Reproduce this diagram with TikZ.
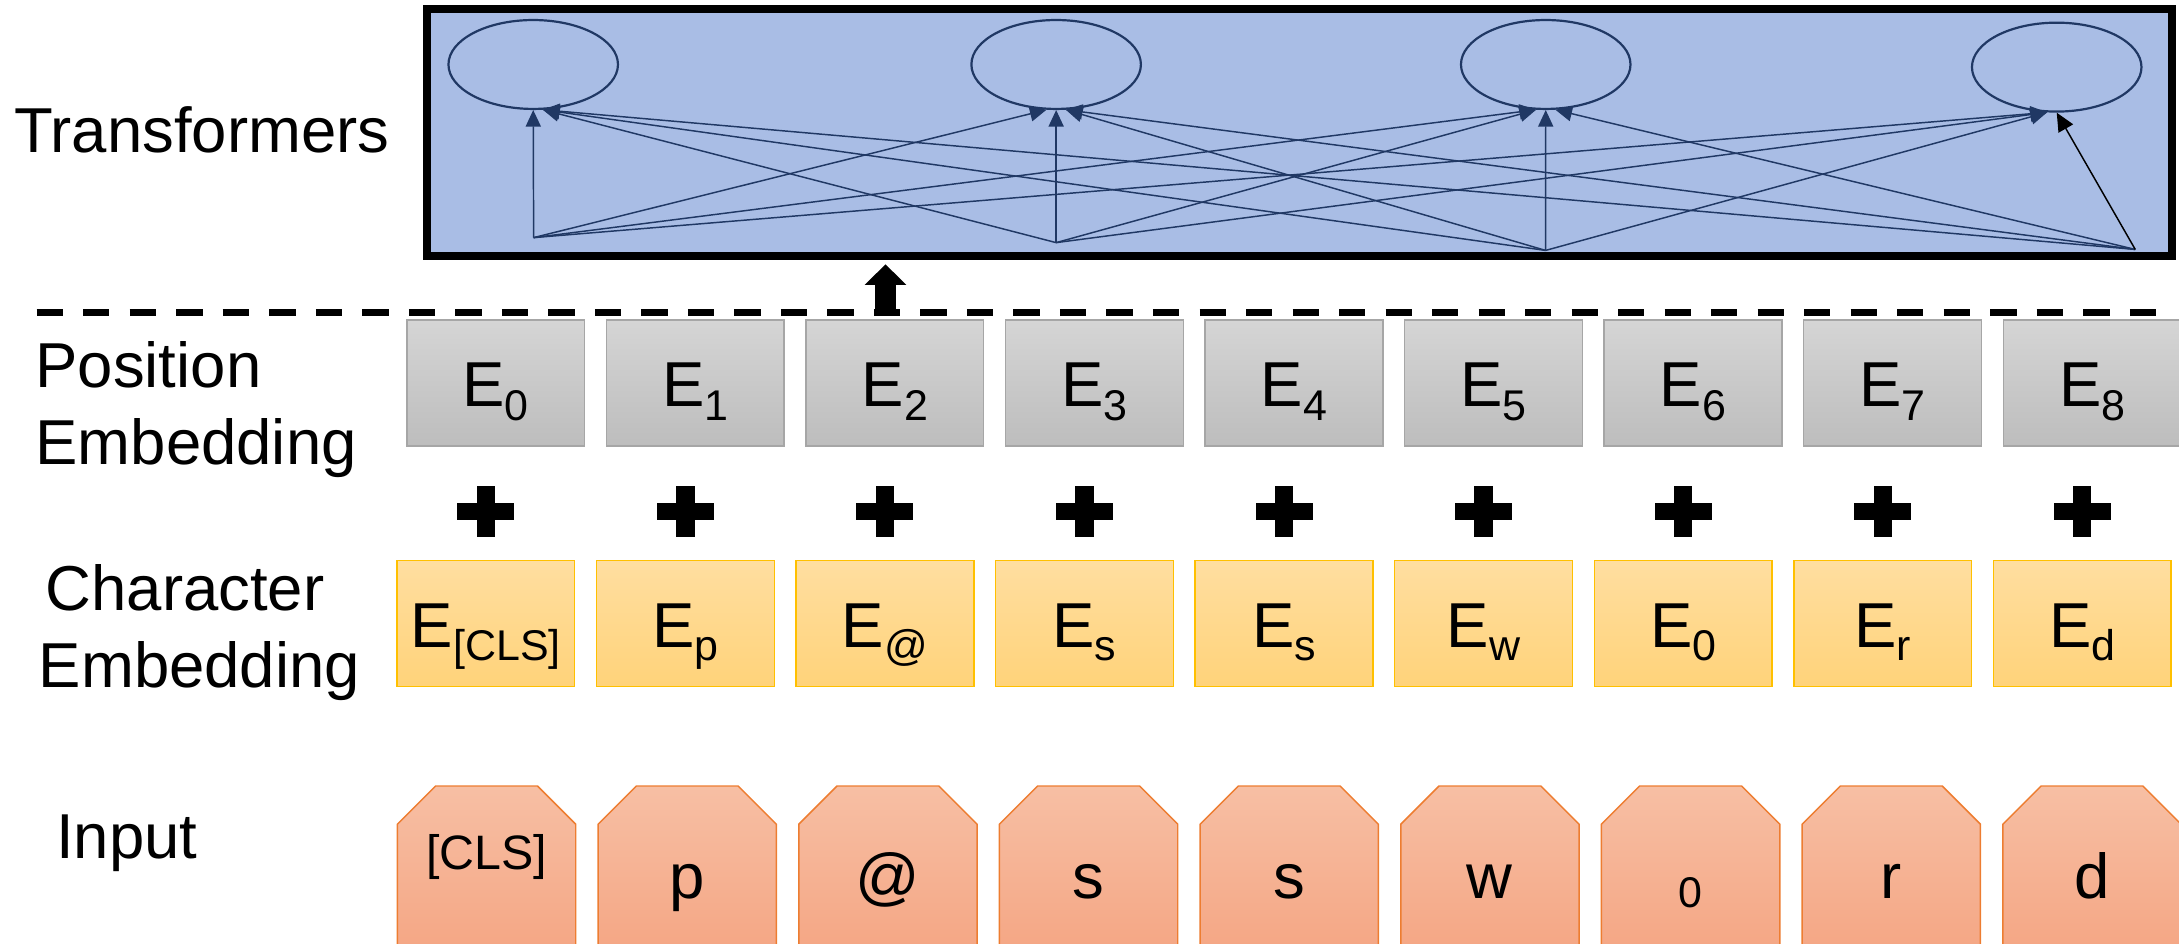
\documentclass[tikz,border=0pt]{standalone}
\usepackage{fontspec}
\setmainfont{Liberation Sans}
\usetikzlibrary{arrows.meta,shapes.geometric}

\definecolor{tfblue}{RGB}{169,189,229}
\definecolor{navy}{RGB}{32,56,100}
\definecolor{postop}{RGB}{213,213,213}
\definecolor{posbot}{RGB}{189,189,189}
\definecolor{posline}{RGB}{166,166,166}
\definecolor{chrtop}{RGB}{255,222,160}
\definecolor{chrbot}{RGB}{255,211,122}
\definecolor{chrline}{RGB}{255,192,0}
\definecolor{intop}{RGB}{247,191,164}
\definecolor{inbot}{RGB}{244,163,128}
\definecolor{inline}{RGB}{237,125,49}

\newcommand\bigtxt{\fontsize{26}{31}\selectfont}
\newcommand\subtxt{\fontsize{17.6}{20}\selectfont}
\newcommand\clstxt{\fontsize{19.8}{24}\selectfont}
\newcommand\emb[1]{E\raisebox{-5.5pt}{\subtxt #1}}

\begin{document}
\begin{tikzpicture}[x=0.02cm,y=-0.02cm,
  lbl/.style={font=\bigtxt, inner sep=0pt, anchor=base west},
  embbox/.style={line width=0.6pt, minimum width=2.56cm, minimum height=1.812cm,
    inner sep=0pt, text height=0.8cm, text depth=0.12cm, font=\bigtxt},
  posbox/.style={embbox, draw=posline, top color=postop, bottom color=posbot},
  chrbox/.style={embbox, draw=chrline, top color=chrtop, bottom color=chrbot},
  inbox/.style={draw=inline, line width=0.6pt, top color=intop, bottom color=inbot},
  unit/.style={ellipse, draw=navy, line width=0.9pt, minimum width=2.44cm,
    minimum height=1.28cm, inner sep=0pt},
  conn/.style={navy, line width=0.6pt, -{Triangle[length=6.8pt,width=6.2pt]}},
  plusbar/.style={fill=black}
]
\useasboundingbox (0,0) rectangle (1568,679);

% Transformer block
\node[draw, line width=3.4pt, fill=tfblue, minimum width=25.12cm,
      minimum height=3.55cm, inner sep=0pt] (tf) at (935,95.25) {};

\node[unit] (e1) at (383.7,46.4) {};
\node[unit] (e2) at (760,46.4) {};
\node[unit] (e3) at (1112.3,46.4) {};
\node[unit] (e4) at (1480,48.3) {};

\coordinate (s1) at (384,171);
\coordinate (s2) at (760,174.6);
\coordinate (s3) at (1112.2,180.2);
\coordinate (s4) at (1536.5,179.5);

\foreach \j/\i/\a in {1/1/270,2/1/-78,3/1/-78,4/1/-78,
                      1/2/-102,2/2/270,3/2/-78,4/2/-78,
                      1/3/-102,2/3/-102,3/3/270,4/3/-78,
                      1/4/-102,2/4/-102,3/4/-102}
  \draw[conn] (s\j) -- (e\i.\a);
\draw[black, line width=0.6pt, -{Triangle[length=7.5pt,width=6.8pt]}] (s4) -- (e4.south);

% left-hand row labels
\node[lbl] (ltf) at (10,110) {Transformers};
\node[lbl] (lpos1) at (25.2,279) {Position};
\node[lbl] (lpos2) at (25.2,334.3) {Embedding};
\node[lbl] (lchr1) at (32.5,439.5) {Character};
\node[lbl] (lchr2) at (27.6,494.8) {Embedding};
\node[lbl] (linp) at (40,617.6) {Input};

% separator and the arrow into the transformer block
\coordinate (dl0) at (26.4,225);
\coordinate (dl1) at (1557.4,225);
\draw[line width=2.72pt, dash pattern=on 10.77pt off 8.28pt] (dl0) -- (dl1);
\coordinate (u0) at (637.2,226.5);
\coordinate (u1) at (637.2,190.2);
\draw[line width=8.5pt, -{Triangle[length=8.4pt,width=16.5pt]}] (u0) -- (u1);

% position embeddings
\foreach \k in {0,...,8}
  \node[posbox] (pos\k) at (356.7+143.6*\k,275.6) {\emb{\k}};

% plus signs
\foreach \k in {0,...,8}{
  \pgfmathsetmacro\cx{349.6+143.6*\k}
  \fill[plusbar] (\cx-20.5,361.75) rectangle (\cx+20.5,374.25);
  \fill[plusbar] (\cx-6.6,349.75) rectangle (\cx+6.6,386.25);
}

% character embeddings
\foreach \k/\s in {0/[CLS],1/p,2/@,3/s,4/s,5/w,6/0,7/r,8/d}
  \node[chrbox] (chr\k) at (349.6+143.6*\k,448.75) {\emb{\s}};

% input tokens
\foreach \k in {0,...,8}{
  \pgfmathsetmacro\L{286+144.4*\k}
  \pgfmathsetmacro\R{\L+128.3}
  \draw[inbox] (\L,700) -- (\L,593.1) -- (\L+27.5,565.6) -- (\R-27.5,565.6)
    -- (\R,593.1) -- (\R,700) -- cycle;
}
\node[anchor=base, inner sep=0pt, font=\clstxt] (in0) at (350.1,626) {[CLS]};
\foreach \k/\s in {1/p,2/@,3/s,4/s,5/w,7/r,8/d}
  \node[anchor=base, inner sep=0pt, font=\bigtxt] (in\k) at (350.1+144.4*\k,646.4) {\s};
\node[anchor=base, inner sep=0pt, font=\subtxt] (in6) at (1216.5,653) {0};
\end{tikzpicture}
\end{document}
